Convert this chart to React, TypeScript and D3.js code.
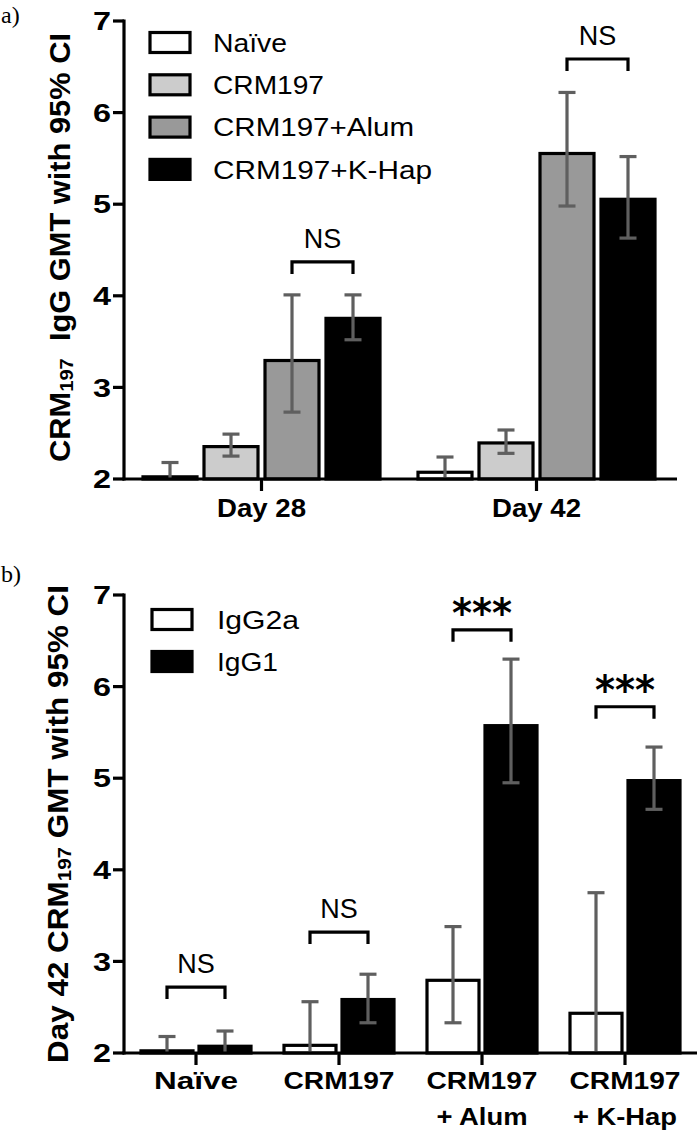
import React, { useEffect } from "react";
import * as d3 from "d3";

// ---------- Panel a data ----------
const groupsA = ["Day 28", "Day 42"];
const seriesA = ["Naïve", "CRM197", "CRM197+Alum", "CRM197+K-Hap"];
const fillsA = ["#ffffff", "#cccccc", "#999999", "#000000"];
// rows: groups, cols: series
const meanA = [
  [2.04, 2.37, 3.31, 3.77],
  [2.09, 2.41, 5.57, 5.07],
];
const lowA = [
  [1.9, 2.25, 2.73, 3.52],
  [1.93, 2.28, 4.98, 4.63],
];
const highA = [
  [2.18, 2.49, 4.01, 4.01],
  [2.24, 2.535, 6.22, 5.52],
];
const bracketA = [4.37, 6.585];
const sigA = ["NS", "NS"];

// ---------- Panel b data ----------
const groupsB = ["Naïve", "CRM197", "CRM197 + Alum", "CRM197 + K-Hap"];
const labelLinesB = [["Naïve"], ["CRM197"], ["CRM197", "+ Alum"], ["CRM197", "+ K-Hap"]];
const labelWidthsB = [[84], [111], [111, 91], [111, 104]];
const seriesB = ["IgG2a", "IgG1"];
const fillsB = ["#ffffff", "#000000"];
const meanIgG2a = [2.04, 2.1, 2.81, 2.45];
const lowIgG2a = [1.9, 1.65, 2.33, 1.15];
const highIgG2a = [2.18, 2.56, 3.38, 3.75];
const meanIgG1 = [2.09, 2.6, 5.59, 4.99];
const lowIgG1 = [1.93, 2.33, 4.95, 4.66];
const highIgG1 = [2.24, 2.86, 6.3, 5.34];
const bracketB = [2.72, 3.32, 6.62, 5.78];
const sigB = ["NS", "NS", "***", "***"];

const yTicks = [2, 3, 4, 5, 6, 7];

const SANS = "'Liberation Sans', Arial, Helvetica, sans-serif";
const ERR = "#5f5f5f";

function ErrorBar({ x, y, lo, hi }) {
  const [d0] = y.domain();
  const yTop = y(hi);
  const yBot = y(Math.max(lo, d0));
  return (
    <g stroke={ERR} strokeWidth={3.2}>
      <line x1={x} x2={x} y1={yTop} y2={yBot} />
      <line x1={x - 8.5} x2={x + 8.5} y1={yTop} y2={yTop} />
      {lo > d0 && <line x1={x - 8.5} x2={x + 8.5} y1={yBot} y2={yBot} />}
    </g>
  );
}

function Bracket({ x1, x2, yy, label, big }) {
  return (
    <g>
      <path d={`M${x1},${yy + 12}V${yy}H${x2}V${yy + 12}`} fill="none" stroke="#000" strokeWidth={3.2} />
      {big ? (
        <text x={(x1 + x2) / 2} y={yy - 3} textAnchor="middle" fontFamily="'DejaVu Sans', sans-serif" fontWeight="bold" fontSize={40} textLength={60} lengthAdjust="spacingAndGlyphs">
          {label}
        </text>
      ) : (
        <text x={(x1 + x2) / 2} y={yy - 14} textAnchor="middle" fontFamily={SANS} fontSize={27}>
          {label}
        </text>
      )}
    </g>
  );
}

function YAxis({ y, x0 }) {
  const [d0, d1] = y.domain();
  return (
    <g>
      <line x1={x0} x2={x0} y1={y(d1) - 1.5} y2={y(d0) + 1.5} stroke="#000" strokeWidth={3.2} />
      {yTicks.map((t) => (
        <g key={t}>
          <line x1={x0 - 11} x2={x0} y1={y(t)} y2={y(t)} stroke="#000" strokeWidth={3.2} />
          <text x={x0 - 13} y={y(t)} dy="0.36em" textAnchor="end" fontFamily={SANS} fontWeight="bold" fontSize={25.5} textLength={18} lengthAdjust="spacingAndGlyphs">
            {t}
          </text>
        </g>
      ))}
    </g>
  );
}

export default function App() {
  useEffect(() => {
    document.body.style.margin = "0";
  }, []);

  // Panel a scales
  const yA = d3.scaleLinear().domain([2, 7]).range([479, 21]);
  const xA = d3.scaleBand().domain(groupsA).range([124, 674]);
  const innerA = d3.scaleBand().domain(seriesA).range([-120, 120]).paddingInner(4 / 61);

  // Panel b scales
  const yB = d3.scaleLinear().domain([2, 7]).range([1053, 595]);
  const xB = d3.scaleBand().domain(groupsB).range([124.5, 696.5]);
  const innerB = d3.scaleBand().domain(seriesB).range([-56.5, 56.5]).paddingInner(3 / 58);

  const seriesBmean = [meanIgG2a, meanIgG1];
  const seriesBlow = [lowIgG2a, lowIgG1];
  const seriesBhigh = [highIgG2a, highIgG1];

  const cA = (g) => xA(g) + xA.bandwidth() / 2;
  const cB = (g) => xB(g) + xB.bandwidth() / 2;

  const legendA = seriesA.map((s, i) => ({ s, fill: fillsA[i], w: [74, 111, 201, 219][i] }));
  const legendB = seriesB.map((s, i) => ({ s, fill: fillsB[i], w: [82, 61][i] }));

  return (
    <svg width={700} height={1132} style={{ display: "block", background: "#fff" }}>
      {/* ================= Panel a ================= */}
      <text x={1} y={23} fontFamily="'Liberation Serif', 'Times New Roman', serif" fontSize={24}>a)</text>
      <text transform="translate(70,247.5) rotate(-90)" textAnchor="middle" fontFamily={SANS} fontWeight="bold" fontSize={29} textLength={429} lengthAdjust="spacingAndGlyphs">
        CRM<tspan fontSize={19} dy={3}>197</tspan><tspan dy={-3}>{"\u00A0\u00A0IgG GMT with 95% CI"}</tspan>
      </text>

      {/* bars */}
      {groupsA.map((g, gi) =>
        seriesA.map((s, si) => {
          const x = cA(g) + innerA(s);
          const w = innerA.bandwidth();
          const top = yA(meanA[gi][si]);
          return (
            <rect key={g + s} x={x + 1.5} y={top + 1.5} width={w - 3} height={Math.max(0, yA(2) - top - 1.5)} fill={fillsA[si]} stroke="#000" strokeWidth={3.2} />
          );
        })
      )}
      {groupsA.map((g, gi) =>
        seriesA.map((s, si) => (
          <ErrorBar key={"e" + g + s} x={cA(g) + innerA(s) + innerA.bandwidth() / 2} y={yA} lo={lowA[gi][si]} hi={highA[gi][si]} />
        ))
      )}
      {/* axes */}
      <YAxis y={yA} x0={124} />
      <line x1={122.5} x2={677} y1={yA(2)} y2={yA(2)} stroke="#000" strokeWidth={3.2} />
      {groupsA.map((g) => (
        <g key={"t" + g}>
          <line x1={cA(g)} x2={cA(g)} y1={yA(2)} y2={yA(2) + 12} stroke="#000" strokeWidth={3.2} />
          <text x={cA(g)} y={517} textAnchor="middle" fontFamily={SANS} fontWeight="bold" fontSize={26} textLength={89} lengthAdjust="spacingAndGlyphs">
            {g}
          </text>
        </g>
      ))}
      {/* brackets */}
      {groupsA.map((g, gi) => (
        <Bracket key={"b" + g} x1={cA(g) + innerA(seriesA[2]) + innerA.bandwidth() / 2} x2={cA(g) + innerA(seriesA[3]) + innerA.bandwidth() / 2} yy={yA(bracketA[gi])} label={sigA[gi]} />
      ))}
      {/* legend */}
      {legendA.map((d, i) => (
        <g key={"la" + d.s} transform={`translate(150,${32.5 + i * 42.3})`}>
          <rect x={0} y={0} width={40} height={20} fill={d.fill} stroke="#000" strokeWidth={3.2} />
          <text x={63} y={10} dy="0.36em" fontFamily={SANS} fontSize={26} textLength={d.w} lengthAdjust="spacingAndGlyphs">
            {d.s}
          </text>
        </g>
      ))}

      {/* ================= Panel b ================= */}
      <text x={1} y={582} fontFamily="'Liberation Serif', 'Times New Roman', serif" fontSize={24}>b)</text>
      <text transform="translate(68,824) rotate(-90)" textAnchor="middle" fontFamily={SANS} fontWeight="bold" fontSize={29} textLength={478} lengthAdjust="spacingAndGlyphs">
        Day 42 CRM<tspan fontSize={19} dy={3}>197</tspan><tspan dy={-3}>{" GMT with 95% CI"}</tspan>
      </text>

      {groupsB.map((g, gi) =>
        seriesB.map((s, si) => {
          const x = cB(g) + innerB(s);
          const w = innerB.bandwidth();
          const top = yB(seriesBmean[si][gi]);
          return (
            <rect key={g + s} x={x + 1.5} y={top + 1.5} width={w - 3} height={Math.max(0, yB(2) - top - 1.5)} fill={fillsB[si]} stroke="#000" strokeWidth={3.2} />
          );
        })
      )}
      {groupsB.map((g, gi) =>
        seriesB.map((s, si) => (
          <ErrorBar key={"e" + g + s} x={cB(g) + innerB(s) + innerB.bandwidth() / 2} y={yB} lo={seriesBlow[si][gi]} hi={seriesBhigh[si][gi]} />
        ))
      )}
      <YAxis y={yB} x0={124} />
      <line x1={122.5} x2={697} y1={yB(2)} y2={yB(2)} stroke="#000" strokeWidth={3.2} />
      {groupsB.map((g, gi) => (
        <g key={"t" + g}>
          <line x1={cB(g)} x2={cB(g)} y1={yB(2)} y2={yB(2) + 12} stroke="#000" strokeWidth={3.2} />
          {labelLinesB[gi].map((ln, li) => (
            <text key={li} x={cB(g)} y={1089 + li * 36} textAnchor="middle" fontFamily={SANS} fontWeight="bold" fontSize={24} textLength={labelWidthsB[gi][li]} lengthAdjust="spacingAndGlyphs">
              {ln}
            </text>
          ))}
        </g>
      ))}
      {groupsB.map((g, gi) => (
        <Bracket key={"b" + g} x1={cB(g) + innerB(seriesB[0]) + innerB.bandwidth() / 2} x2={cB(g) + innerB(seriesB[1]) + innerB.bandwidth() / 2} yy={yB(bracketB[gi])} label={sigB[gi]} big={sigB[gi] === "***"} />
      ))}
      {legendB.map((d, i) => (
        <g key={"lb" + d.s} transform={`translate(152,${609.5 + i * 42})`}>
          <rect x={0} y={0} width={40} height={20} fill={d.fill} stroke="#000" strokeWidth={3.2} />
          <text x={65} y={10} dy="0.36em" fontFamily={SANS} fontSize={26} textLength={d.w} lengthAdjust="spacingAndGlyphs">
            {d.s}
          </text>
        </g>
      ))}
    </svg>
  );
}
